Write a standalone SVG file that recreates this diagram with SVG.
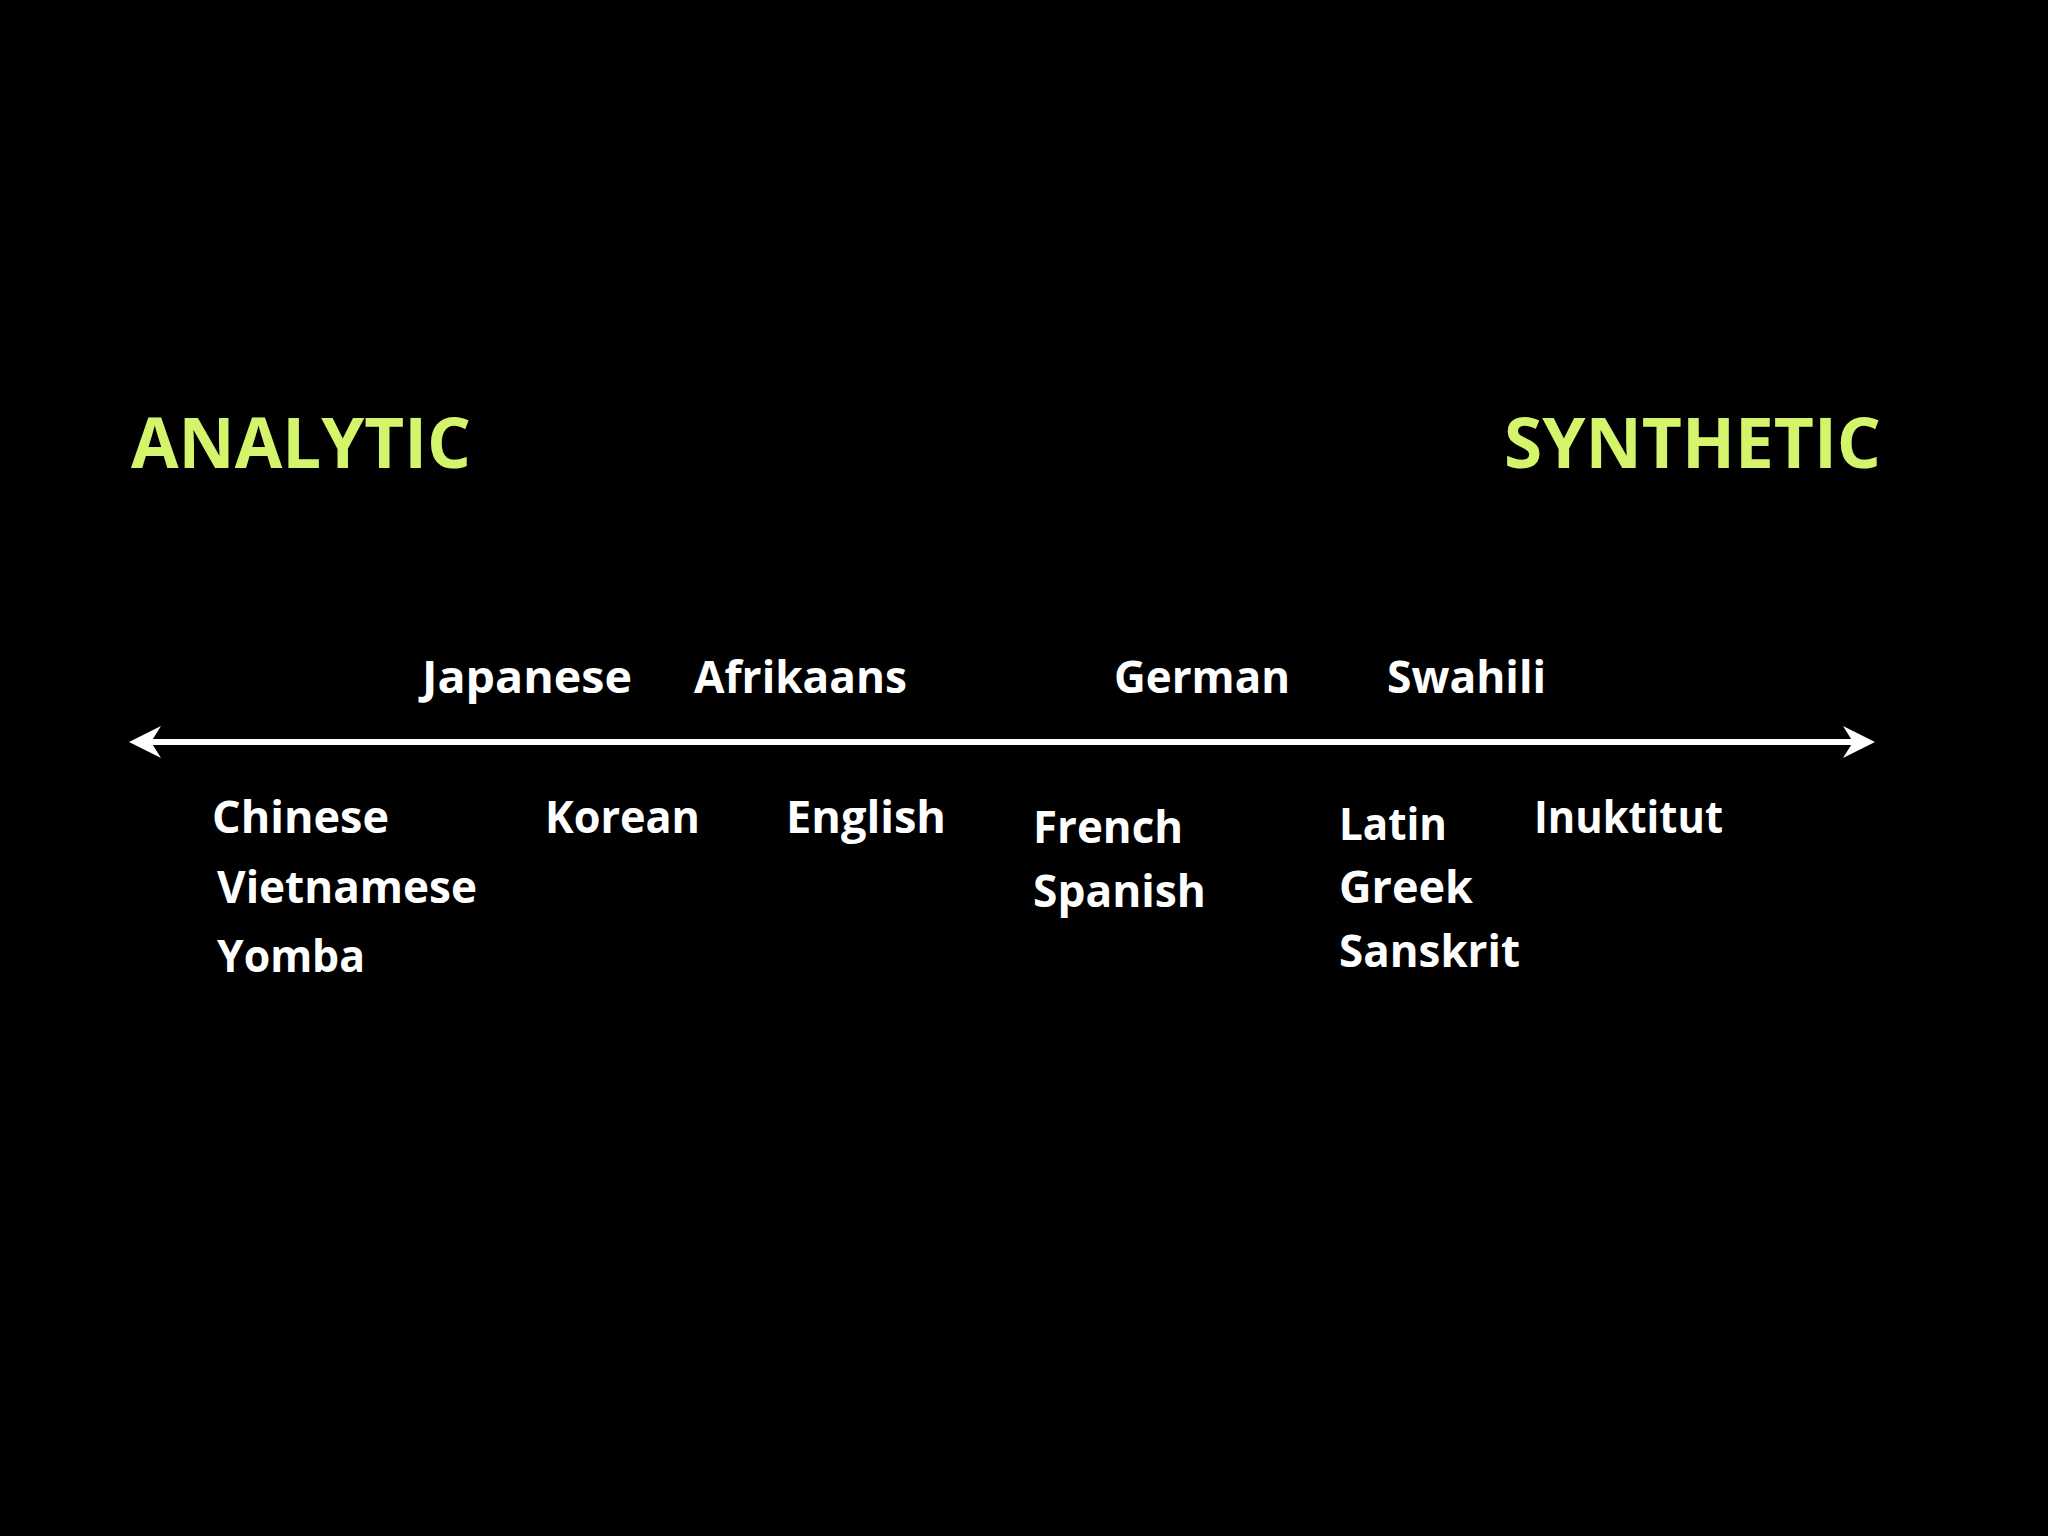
<svg xmlns="http://www.w3.org/2000/svg" width="2048" height="1536" viewBox="0 0 2048 1536">
<style>
.hd{font-family:"Open Sans","Noto Sans","Liberation Sans",sans-serif;font-weight:700;font-size:70px;fill:#d4f46c}
.lb{font-family:"Open Sans","Noto Sans","Liberation Sans",sans-serif;font-weight:700;font-size:45px;fill:#ffffff}
.ax{stroke:#ffffff;stroke-width:6;fill:none}
.ah{fill:#ffffff}
</style>
<rect x="0" y="0" width="2048" height="1536" fill="#000000"/>
<g id="connectors">
<line class="ax" x1="145" y1="742" x2="1860" y2="742"/>
<polygon class="ah" points="1875,742 1843,726 1853,742 1843,758"/>
<polygon class="ah" points="129,742 161,726 151,742 161,758"/>
</g>
<g id="analytic"><text class="hd" x="131" y="468" textLength="340" lengthAdjust="spacingAndGlyphs">ANALYTIC</text></g>
<g id="synthetic"><text class="hd" x="1504" y="468" textLength="377" lengthAdjust="spacingAndGlyphs">SYNTHETIC</text></g>
<g id="japanese"><text class="lb" x="422" y="693" textLength="210" lengthAdjust="spacingAndGlyphs">Japanese</text></g>
<g id="afrikaans"><text class="lb" x="694" y="693" textLength="213" lengthAdjust="spacingAndGlyphs">Afrikaans</text></g>
<g id="german"><text class="lb" x="1114" y="693" textLength="176" lengthAdjust="spacingAndGlyphs">German</text></g>
<g id="swahili"><text class="lb" x="1387" y="693" textLength="159" lengthAdjust="spacingAndGlyphs">Swahili</text></g>
<g id="chinese"><text class="lb" x="212" y="833" textLength="177" lengthAdjust="spacingAndGlyphs">Chinese</text></g>
<g id="vietnamese"><text class="lb" x="217" y="903" textLength="260" lengthAdjust="spacingAndGlyphs">Vietnamese</text></g>
<g id="yomba"><text class="lb" x="217" y="972" textLength="148" lengthAdjust="spacingAndGlyphs">Yomba</text></g>
<g id="korean"><text class="lb" x="545" y="833" textLength="155" lengthAdjust="spacingAndGlyphs">Korean</text></g>
<g id="english"><text class="lb" x="786" y="833" textLength="160" lengthAdjust="spacingAndGlyphs">English</text></g>
<g id="french"><text class="lb" x="1033" y="843" textLength="150" lengthAdjust="spacingAndGlyphs">French</text></g>
<g id="spanish"><text class="lb" x="1033" y="907" textLength="173" lengthAdjust="spacingAndGlyphs">Spanish</text></g>
<g id="latin"><text class="lb" x="1339" y="840" textLength="108" lengthAdjust="spacingAndGlyphs">Latin</text></g>
<g id="greek"><text class="lb" x="1339" y="903" textLength="134" lengthAdjust="spacingAndGlyphs">Greek</text></g>
<g id="sanskrit"><text class="lb" x="1339" y="967" textLength="181" lengthAdjust="spacingAndGlyphs">Sanskrit</text></g>
<g id="inuktitut"><text class="lb" x="1534" y="833" textLength="189" lengthAdjust="spacingAndGlyphs">Inuktitut</text></g>
</svg>
